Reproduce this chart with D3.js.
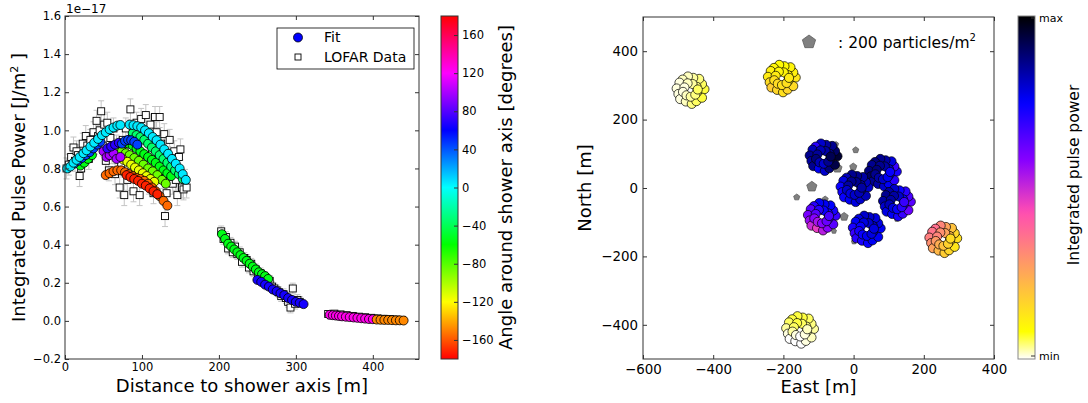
<!DOCTYPE html>
<html>
<head>
<meta charset="utf-8">
<script src="https://cdn.jsdelivr.net/npm/d3@7"></script>
<style>
  body { margin: 0; background: #fff; }
  svg { display: block; }
  text { font-family: "DejaVu Sans", sans-serif; fill: #000; }
</style>
</head>
<body>
<script>
'use strict';

// ---------------- left panel: pulse power vs distance ----------------
// fitted power per antenna, grouped by angle around the shower axis (degrees)
const fitAngles = [-55, -35, -85, -115, -155, -172, 100, 70, 45, 5, -55, 65, 125, -148]
const fitDistances = [
  [20, 25, 30, 35, 78, 83, 88, 93, 98, 103, 108, 113, 118, 123, 128, 133, 138],
  [88, 93, 98, 103, 108, 113, 118, 123, 128, 133, 138, 143, 148, 153],
  [64, 69, 74, 79, 84, 90, 96, 102, 108, 114, 120, 126, 131],
  [76, 81, 86, 91, 96, 101, 106, 111, 116],
  [53, 58, 63, 68, 73, 78, 83, 88, 93, 98, 103, 108, 113, 118, 123, 128, 133],
  [80, 85, 90, 95, 100, 105, 110, 115, 120],
  [50, 54, 58, 63, 67, 72],
  [55, 60, 65, 70],
  [12, 17, 22, 27, 32, 37, 42, 46, 74, 78, 82, 86, 90, 94],
  [3, 7, 11, 15, 19, 24, 28, 33, 38, 43, 48, 53, 58, 63, 68, 72,
   84, 89, 94, 99, 104, 109, 114, 119, 124, 129, 134, 139, 144, 149, 153, 157],
  [204, 208, 212, 216, 220, 224, 228, 232, 236, 240, 244, 248, 252, 256, 260, 264],
  [250, 255, 260, 265, 270, 275, 280, 285, 290, 295, 300, 305, 310],
  [344, 348, 352, 356, 360, 365, 370, 375, 380, 385, 390, 395, 400],
  [405, 410, 415, 420, 425, 430, 435, 440]
]
const fitPowers = [
  [0.815, 0.83, 0.85, 0.87, 0.935, 0.93, 0.92, 0.905, 0.89, 0.875, 0.86, 0.845, 0.83, 0.81, 0.79, 0.775, 0.76],
  [0.985, 0.975, 0.965, 0.95, 0.93, 0.91, 0.89, 0.87, 0.85, 0.83, 0.81, 0.79, 0.77, 0.745],
  [0.88, 0.89, 0.89, 0.88, 0.87, 0.855, 0.84, 0.82, 0.80, 0.785, 0.765, 0.74, 0.72],
  [0.845, 0.835, 0.82, 0.805, 0.79, 0.775, 0.76, 0.745, 0.73],
  [0.765, 0.775, 0.785, 0.79, 0.79, 0.78, 0.77, 0.76, 0.75, 0.745, 0.735, 0.72, 0.70, 0.68, 0.655, 0.63, 0.605],
  [0.765, 0.755, 0.745, 0.735, 0.72, 0.71, 0.695, 0.68, 0.665],
  [0.89, 0.86, 0.87, 0.88, 0.85, 0.86],
  [0.905, 0.915, 0.925, 0.935],
  [0.825, 0.84, 0.855, 0.87, 0.885, 0.905, 0.925, 0.94, 0.93, 0.945, 0.95, 0.948, 0.94, 0.925],
  [0.80, 0.81, 0.83, 0.845, 0.86, 0.88, 0.895, 0.915, 0.935, 0.955, 0.975, 0.99, 1.005, 1.015, 1.025, 1.028,
   1.03, 1.027, 1.022, 1.015, 1.0, 0.985, 0.965, 0.948, 0.925, 0.9, 0.877, 0.85, 0.825, 0.80, 0.77, 0.74],
  [0.455, 0.43, 0.405, 0.39, 0.375, 0.36, 0.345, 0.33, 0.315, 0.30, 0.285, 0.27, 0.255, 0.245, 0.235, 0.22],
  [0.215, 0.205, 0.19, 0.18, 0.165, 0.155, 0.145, 0.135, 0.12, 0.11, 0.10, 0.095, 0.088],
  [0.032, 0.03, 0.028, 0.026, 0.024, 0.022, 0.02, 0.018, 0.016, 0.014, 0.012, 0.01, 0.009],
  [0.007, 0.006, 0.005, 0.005, 0.004, 0.003, 0.003, 0.002]
]

// measured LOFAR data, three groups of stations
const dataDistances = [
  [2, 5, 8, 11, 13, 15, 17, 19, 21, 23, 25, 27, 29, 31, 33, 35, 37, 39, 41, 43, 45, 47, 49, 51, 53, 55, 57, 59,
   61, 63, 65, 67, 69, 71, 73, 75, 77, 79, 81, 83, 85, 87, 89, 91, 93, 95, 97, 99, 101, 103, 105, 107, 109, 111,
   113, 115, 117, 119, 121, 123, 125, 127, 129, 130, 132, 134, 136, 138, 140, 142, 144, 146, 148, 150, 152, 154, 156, 158],
  [203, 206, 209, 212, 215, 218, 221, 224, 227, 230, 233, 236, 239, 242, 245, 248, 251, 254, 257, 260, 263, 266,
   269, 272, 275, 278, 281, 284, 287, 290, 293, 296, 299, 302, 305],
  [342, 346, 350, 354, 358, 362, 366, 370, 374, 378, 382, 386, 390, 394, 398, 402, 406, 410, 414, 418, 422, 426, 430, 434, 438]
]
const dataPowers = [
  [0.80, 0.82, 0.86, 0.91, 0.84, 0.89, 0.87, 0.76, 0.80, 0.93, 0.88, 0.97, 0.92, 0.85, 0.95, 0.90, 0.99, 0.93, 1.05, 0.97,
   1.00, 1.10, 0.92, 1.03, 0.84, 1.04, 0.79, 0.96, 0.88, 1.01, 0.77, 0.92, 0.86, 0.70, 0.82, 0.95, 0.66, 1.01, 0.74, 0.89,
   1.11, 0.97, 0.68, 0.81, 1.04, 0.91, 0.66, 1.06, 0.84, 0.78, 1.08, 0.95, 0.72, 1.03, 0.88, 0.67, 1.07, 0.99, 0.80, 1.07,
   0.93, 0.75, 0.98, 0.55, 0.67, 0.86, 0.95, 0.82, 0.72, 0.89, 0.74, 0.66, 0.86, 0.90, 0.70, 0.69, 0.74, 0.70],
  [0.47, 0.43, 0.44, 0.38, 0.41, 0.36, 0.39, 0.35, 0.36, 0.31, 0.33, 0.32, 0.28, 0.30, 0.26, 0.27, 0.23, 0.25, 0.21, 0.23,
   0.19, 0.21, 0.18, 0.17, 0.16, 0.15, 0.13, 0.14, 0.12, 0.10, 0.07, 0.17, 0.09, 0.11, 0.10],
  [0.036, 0.030, 0.038, 0.027, 0.034, 0.024, 0.030, 0.021, 0.026, 0.018, 0.022, 0.016, 0.019, 0.014, 0.016, 0.011,
   0.013, 0.009, 0.011, 0.007, 0.009, 0.006, 0.007, 0.004, 0.005]
]
const dataErrors = [0.055, 0.028, 0.012]   // error bar half-length per group

const xTicksLeft = [0, 100, 200, 300, 400]
const yTicksLeft = [-0.2, 0.0, 0.2, 0.4, 0.6, 0.8, 1.0, 1.2, 1.4, 1.6]
const angleTicks = [-160, -120, -80, -40, 0, 40, 80, 120, 160]

// ---------------- right panel: footprint ----------------
const stationEast  = [-465, -205, -86, 83, 2, 123, -91, 37, 255, -153]
const stationNorth = [286, 320, 90, 45, -1, -43, -84, -121, -150, -415]
// antenna layout relative to station centre [m]: outer ring then inner ring (irregular)
const antennaEast  = [40, 33, 25, 8, -7, -22, -31, -39, -34, -29, -13, 4, 17, 33,
                      19, 18, 6, -8, -17, -21, -11, 1, 14, 21]
const antennaNorth = [3, 18, 33, 36, 40, 31, 22, 5, -11, -26, -33, -40, -32, -22,
                      -6, 10, 18, 20, 8, -5, -15, -19, -13, 2]
// integrated pulse power per antenna (0 = min, 100 = max)
const antennaPower = [
  [6, 5, 4, 3, 2, 2, 1, 1, 1, 1, 2, 4, 5, 6,   5, 4, 3, 2, 1, 1, 2, 3, 4, 5],
  [13, 11, 10, 9, 9, 10, 11, 12, 15, 18, 16, 14, 16, 15,   13, 11, 10, 10, 12, 14, 15, 14, 14, 12],
  [95, 90, 86, 84, 80, 70, 82, 86, 84, 86, 76, 80, 88, 93,   90, 86, 84, 82, 85, 88, 82, 80, 86, 92],
  [72, 68, 78, 84, 86, 88, 86, 88, 90, 86, 84, 80, 76, 70,   78, 80, 84, 86, 88, 86, 84, 80, 76, 74],
  [80, 82, 84, 86, 86, 82, 78, 74, 73, 74, 76, 78, 80, 82,   84, 84, 86, 86, 84, 80, 78, 80, 82, 84],
  [64, 66, 70, 74, 80, 84, 86, 84, 80, 78, 76, 72, 68, 62,   70, 74, 80, 84, 84, 82, 78, 74, 70, 68],
  [68, 72, 75, 76, 76, 70, 64, 60, 56, 50, 46, 52, 58, 64,   66, 72, 74, 70, 64, 58, 54, 58, 62, 66],
  [76, 78, 78, 80, 80, 78, 76, 72, 68, 70, 72, 74, 76, 76,   78, 80, 80, 78, 74, 72, 74, 76, 78, 78],
  [14, 16, 20, 26, 32, 36, 35, 33, 30, 26, 22, 18, 16, 13,   18, 22, 26, 30, 32, 28, 24, 20, 17, 15],
  [3, 4, 5, 6, 6, 6, 5, 3, 1, 0, 0, 0, 1, 2,   3, 4, 5, 6, 5, 3, 1, 0, 1, 2]
]
// particle detectors
const detectorEast    = [-50, 6, -46, -1, -119, -162, -81, -27, -56, 1, 123]
const detectorNorth   = [128, 111, 58, 62, 4, -27, -33, -84, -126, -157, -91]
const detectorDensity = [30, 43, 96, 58, 118, 43, 43, 76, 30, 30, 30]
const legendDensity = 200

const xTicksRight = [-600, -400, -200, 0, 200, 400]
const yTicksRight = [-400, -200, 0, 200, 400]

// ---------------- layout ----------------
const W = 1088, H = 403
const L = { left: 65, right: 419, top: 16, bottom: 359 }
const R = { left: 643, right: 994, top: 17, bottom: 359 }
const axisColor = '#333'

const svg = d3.select('body').append('svg').attr('width', W).attr('height', H)
const defs = svg.append('defs')

// colormaps
function hsvColor(angle) { return d3.hsl(angle + 180, 1, 0.5).formatHex() }
function gnuplot2(x) {
  const c = v => Math.max(0, Math.min(1, v))
  const r = c(x / 0.32 - 0.78125), g = c(2 * x - 0.84)
  const b = c(x < 0.25 ? 4 * x : x < 0.92 ? -2 * x + 1.84 : x / 0.08 - 11.5)
  return d3.rgb(r * 255, g * 255, b * 255).formatHex()
}
const powerToX = d3.scaleLinear().domain([0, 100]).range([1, 0])
function powerColor(p) { return gnuplot2(powerToX(p)) }

// inward ticks on all four sides + frame
function drawFrame(g, x, y, xTicks, yTicks, fmtX, fmtY, fontSize, pad) {
  const [x0, x1] = x.range(), [y0, y1] = y.range()
  const style = sel => {
    sel.select('.domain').remove()
    sel.selectAll('line').attr('stroke', axisColor)
    sel.selectAll('text').style('font-size', fontSize + 'px')
  }
  g.append('g').attr('transform', `translate(0,${y0})`)
    .call(d3.axisBottom(x).tickValues(xTicks).tickSizeInner(-4).tickSizeOuter(0).tickPadding(pad).tickFormat(fmtX)).call(style)
  g.append('g').attr('transform', `translate(0,${y1})`)
    .call(d3.axisTop(x).tickValues(xTicks).tickSizeInner(-4).tickSizeOuter(0).tickFormat('')).call(style)
  g.append('g').attr('transform', `translate(${x0},0)`)
    .call(d3.axisLeft(y).tickValues(yTicks).tickSizeInner(-4).tickSizeOuter(0).tickPadding(pad).tickFormat(fmtY)).call(style)
  g.append('g').attr('transform', `translate(${x1},0)`)
    .call(d3.axisRight(y).tickValues(yTicks).tickSizeInner(-4).tickSizeOuter(0).tickFormat('')).call(style)
  g.append('rect').attr('x', x0).attr('y', y1).attr('width', x1 - x0).attr('height', y0 - y1)
    .attr('fill', 'none').attr('stroke', axisColor).attr('stroke-width', 1)
}

// ================= LEFT PANEL =================
const xL = d3.scaleLinear().domain([0, 460]).range([L.left, L.right])
const yL = d3.scaleLinear().domain([-0.2, 1.6]).range([L.bottom, L.top])
const gL = svg.append('g')

// error bars
dataDistances.forEach((ds, gi) => {
  ds.forEach((d, i) => {
    const p = dataPowers[gi][i], e = dataErrors[gi]
    const cx = xL(d)
    gL.append('line').attr('x1', cx).attr('x2', cx).attr('y1', yL(p - e)).attr('y2', yL(p + e))
      .attr('stroke', '#c4c4c4').attr('stroke-width', 1)
    ;[p - e, p + e].forEach(v => gL.append('line').attr('x1', cx - 3).attr('x2', cx + 3)
      .attr('y1', yL(v)).attr('y2', yL(v)).attr('stroke', '#c4c4c4').attr('stroke-width', 1))
  })
})
// data squares
dataDistances.forEach((ds, gi) => {
  ds.forEach((d, i) => {
    gL.append('rect').attr('x', xL(d) - 3.5).attr('y', yL(dataPowers[gi][i]) - 3.5)
      .attr('width', 7).attr('height', 7).attr('fill', '#fff').attr('stroke', '#000').attr('stroke-width', 0.9)
  })
})
// fit circles
fitDistances.forEach((ds, gi) => {
  ds.forEach((d, i) => {
    gL.append('circle').attr('cx', xL(d)).attr('cy', yL(fitPowers[gi][i])).attr('r', 4.5)
      .attr('fill', hsvColor(fitAngles[gi])).attr('stroke', '#000').attr('stroke-width', 0.8)
  })
})

drawFrame(gL, xL, yL, xTicksLeft, yTicksLeft, d3.format('d'), d3.format('.1f'), 11.5, 4)

gL.append('text').attr('x', 66).attr('y', 13).style('font-size', '12px').text('1e\u221217')

// legend
const leg = gL.append('g')
leg.append('rect').attr('x', 277).attr('y', 28).attr('width', 137).attr('height', 41)
  .attr('fill', '#fff').attr('stroke', '#000').attr('stroke-width', 0.8)
leg.append('circle').attr('cx', 298).attr('cy', 37.5).attr('r', 4.5).attr('fill', '#0000ff')
  .attr('stroke', '#000').attr('stroke-width', 0.8)
leg.append('rect').attr('x', 295).attr('y', 54).attr('width', 6).attr('height', 6)
  .attr('fill', '#fff').attr('stroke', '#000').attr('stroke-width', 0.9)
leg.append('text').attr('x', 324).attr('y', 42).style('font-size', '14px').text('Fit')
leg.append('text').attr('x', 324).attr('y', 62).style('font-size', '14px').text('LOFAR Data')

// axis labels
gL.append('text').attr('x', (L.left + L.right) / 2).attr('y', 392).attr('text-anchor', 'middle')
  .style('font-size', '18px').text('Distance to shower axis [m]')
const yLab = gL.append('text').attr('transform', `translate(25,${(L.top + L.bottom) / 2}) rotate(-90)`)
  .attr('text-anchor', 'middle').style('font-size', '18px')
yLab.append('tspan').text('Integrated Pulse Power [J/m')
yLab.append('tspan').attr('dy', -7).style('font-size', '11px').text('2')
yLab.append('tspan').attr('dy', 7).text(' ]')

// angle colorbar
const cb1 = { x: 441, w: 17 }
const angleScale = d3.scaleLinear().domain([-180, 180]).range([L.bottom, L.top])
const grad1 = defs.append('linearGradient').attr('id', 'hsvGrad')
  .attr('x1', 0).attr('y1', 1).attr('x2', 0).attr('y2', 0)
d3.range(0, 361, 15).forEach(h => grad1.append('stop').attr('offset', h / 360)
  .attr('stop-color', d3.hsl(h, 1, 0.5).formatHex()))
gL.append('rect').attr('x', cb1.x).attr('y', L.top).attr('width', cb1.w).attr('height', L.bottom - L.top)
  .attr('fill', 'url(#hsvGrad)').attr('stroke', axisColor).attr('stroke-width', 1)
gL.append('g').attr('transform', `translate(${cb1.x + cb1.w},0)`)
  .call(d3.axisRight(angleScale).tickValues(angleTicks).tickSizeInner(-4).tickSizeOuter(0).tickPadding(4))
  .call(s => { s.select('.domain').remove(); s.selectAll('line').attr('stroke', axisColor); s.selectAll('text').style('font-size', '11.5px') })
gL.append('text').attr('transform', `translate(512,${(L.top + L.bottom) / 2}) rotate(-90)`)
  .attr('text-anchor', 'middle').style('font-size', '18px').text('Angle around shower axis [degrees]')

// ================= RIGHT PANEL =================
const xR = d3.scaleLinear().domain([-600, 400]).range([R.left, R.right])
const yR = d3.scaleLinear().domain([-500, 500]).range([R.bottom, R.top])
const rDet = d3.scaleSqrt().domain([0, 200]).range([0, 7])
const gR = svg.append('g')

function pentagon(cx, cy, r) {
  const pts = d3.range(5).map(k => {
    const a = -Math.PI / 2 + k * 2 * Math.PI / 5
    return [cx + r * Math.cos(a), cy + r * Math.sin(a)]
  })
  return 'M' + pts.map(p => p.join(',')).join('L') + 'Z'
}

// particle detectors
detectorEast.forEach((e, i) => {
  gR.append('path').attr('d', pentagon(xR(e), yR(detectorNorth[i]), rDet(detectorDensity[i])))
    .attr('fill', '#808080').attr('stroke', '#555').attr('stroke-width', 0.7)
})

// stations
stationEast.forEach((se, s) => {
  antennaEast.forEach((ae, k) => {
    gR.append('circle').attr('cx', xR(se + ae)).attr('cy', yR(stationNorth[s] + antennaNorth[k])).attr('r', 4.6)
      .attr('fill', powerColor(antennaPower[s][k])).attr('stroke', '#000').attr('stroke-width', 0.7)
  })
  gR.append('circle').attr('cx', xR(se)).attr('cy', yR(stationNorth[s])).attr('r', 1.8).attr('fill', '#fff')
})

drawFrame(gR, xR, yR, xTicksRight, yTicksRight, d3.format('d'), d3.format('d'), 13.4, 5)

// detector legend
gR.append('path').attr('d', pentagon(809, 42, rDet(legendDensity))).attr('fill', '#808080')
  .attr('stroke', '#555').attr('stroke-width', 0.7)
const detLab = gR.append('text').attr('x', 838).attr('y', 48).style('font-size', '15.5px')
detLab.append('tspan').text(': ' + legendDensity + ' particles/m')
detLab.append('tspan').attr('dy', -7).style('font-size', '10px').text('2')

// axis labels
gR.append('text').attr('x', (R.left + R.right) / 2).attr('y', 393).attr('text-anchor', 'middle')
  .style('font-size', '18px').text('East [m]')
gR.append('text').attr('transform', `translate(591,${(R.top + R.bottom) / 2}) rotate(-90)`)
  .attr('text-anchor', 'middle').style('font-size', '18px').text('North [m]')

// power colorbar
const cb2 = { x: 1018, w: 17, top: 16, bottom: 359 }
const grad2 = defs.append('linearGradient').attr('id', 'gpGrad')
  .attr('x1', 0).attr('y1', 0).attr('x2', 0).attr('y2', 1)
d3.range(0, 1.0001, 0.02).forEach(t => grad2.append('stop').attr('offset', t).attr('stop-color', gnuplot2(t)))
gR.append('rect').attr('x', cb2.x).attr('y', cb2.top).attr('width', cb2.w).attr('height', cb2.bottom - cb2.top)
  .attr('fill', 'url(#gpGrad)').attr('stroke', '#888').attr('stroke-width', 1)
const cbPower = d3.scaleLinear().domain([0, 100]).range([cb2.bottom - 3, cb2.top + 2])
;[[100, 'max'], [0, 'min']].forEach(([v, t]) => {
  gR.append('line').attr('x1', cb2.x + cb2.w - 4).attr('x2', cb2.x + cb2.w).attr('y1', cbPower(v)).attr('y2', cbPower(v))
    .attr('stroke', axisColor)
  gR.append('text').attr('x', cb2.x + cb2.w + 4).attr('y', cbPower(v)).attr('dominant-baseline', 'central')
    .style('font-size', '11px').text(t)
})
gR.append('text').attr('transform', `translate(1079,175) rotate(-90)`)
  .attr('text-anchor', 'middle').style('font-size', '15.5px').text('Integrated pulse power')
</script>
</body>
</html>
